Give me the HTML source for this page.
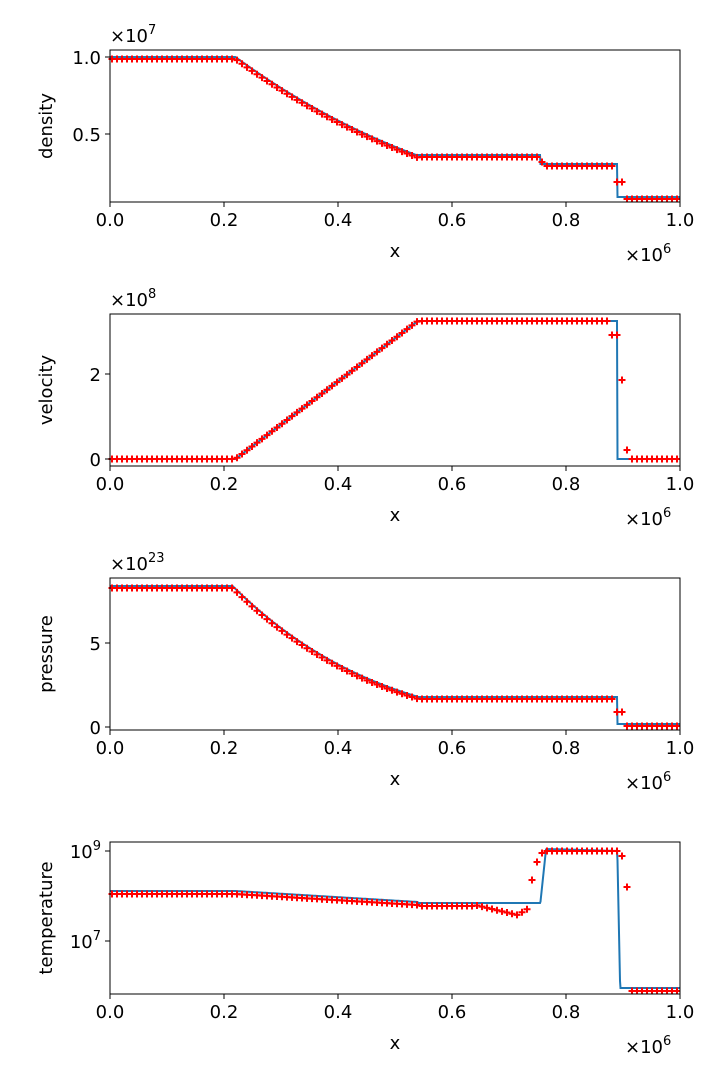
<!DOCTYPE html>
<html><head><meta charset="utf-8"><style>
body{margin:0;background:#fff}
svg{display:block;font-family:"DejaVu Sans","Liberation Sans",sans-serif}
</style></head><body>
<svg id="s" width="720" height="1080" xmlns="http://www.w3.org/2000/svg"></svg>
<script>
var S=document.getElementById('s'),h='';
var X0=110,X1=680,W=570;
function px(x){return X0+x*W;}
function lin(a,b,x0,x1,x){if(x<=x0)return a;if(x>=x1)return b;return a+(b-a)*(x-x0)/(x1-x0);}
function dens(x){ if(x<0.22)return 57; if(x<0.54){var t=(x-0.22)/0.32;var f=1-t*0.289;return 211-154*f*f*f;} if(x<0.755)return 155; if(x<0.89)return 164; return 197;}
function vel(x){ if(x<0.22)return 459; if(x<0.54)return lin(459,321,0.22,0.54,x); if(x<0.89)return 321; return 459;}
function pres(x){ if(x<0.215)return 586; if(x<0.54){var t=(x-0.215)/0.325;var f=1-t*0.289;return 727-141*Math.pow(f,4.52);} if(x<0.89)return 697; return 724;}
function temp(x){ if(x<0.22)return 891; if(x<0.54)return lin(891,902,0.22,0.54,x); if(x<0.755)return 903; if(x<0.765)return lin(903,849,0.755,0.765,x); if(x<0.89)return lin(849,851,0.765,0.89,x); if(x<0.895)return lin(851,988,0.89,0.895,x); return 988;}
var plots=[
 {top:50,f:dens,lab:'density',off:'7',ticks:[[134,'0.5'],[57,'1.0']],dy:2},
 {top:314,f:vel,lab:'velocity',off:'8',ticks:[[459,'0'],[374,'2']],dy:0},
 {top:578,f:pres,lab:'pressure',off:'23',ticks:[[727,'0'],[643,'5']],dy:2},
 {top:842,f:temp,lab:'temperature',off:null,ticks:[[941,'10<tspan dy="-8" font-size="13">7</tspan>'],[851,'10<tspan dy="-8" font-size="13">9</tspan>']],dy:3}
];
function plus(x,y){return '<path d="M'+(x-3.5)+' '+y+'h7M'+x+' '+(y-3.5)+'v7" stroke="#f00" stroke-width="2"/>';}
plots.forEach(function(p,k){
 var T=p.top,B=T+152;
 var d='';for(var i=0;i<=1140;i++){var x=i/1140;d+=(i?'L':'M')+px(x).toFixed(1)+' '+p.f(x).toFixed(1);}
 var pl='';
 for(var i=0;i<114;i++){var x=(i+0.4)/114,xp=px(x),y=p.f(x)+p.dy;
  if(k==0){ if(x>0.885&&x<0.9)y=182; else if(x>0.75&&x<0.765)y=162;}
  if(k==1){ if(x>0.88&&x<0.89)y=335; else if(x>0.89&&x<0.9)y=380; else if(x>0.9&&x<0.91)y=450;}
  if(k==2){ if(x>0.885&&x<0.9)y=712;}
  if(k==3){ if(x>0.64&&x<0.735){y=lin(905,915,0.64,0.715,x); if(x>0.715)y=lin(915,908,0.715,0.735,x);}
   if(x>=0.735&&x<0.742)y=880; else if(x>=0.742&&x<0.75)y=862; else if(x>=0.75&&x<0.76)y=853; else if(x>=0.76&&x<0.89)y=851;
   if(x>0.89&&x<0.9)y=856; else if(x>=0.9&&x<0.91)y=887; }
  pl+=plus(xp,y);}
 h+='<path d="'+d+'" fill="none" stroke="#1f77b4" stroke-width="2"/>'+pl;
 h+='<rect x="110" y="'+T+'" width="570" height="152" fill="none" stroke="#000" stroke-width="1"/>';
 for(var i=0;i<=5;i++){var x=X0+114*i;h+='<line x1="'+x+'" y1="'+B+'" x2="'+x+'" y2="'+(B+5)+'" stroke="#000"/>';
  h+='<text x="'+x+'" y="'+(B+24)+'" font-size="18" text-anchor="middle">'+(i/5).toFixed(1)+'</text>';}
 p.ticks.forEach(function(t){h+='<line x1="105" y1="'+t[0]+'" x2="110" y2="'+t[0]+'" stroke="#000"/>';
  h+='<text x="101" y="'+(t[0]+7)+'" font-size="18" text-anchor="end">'+t[1]+'</text>';});
 h+='<text x="395" y="'+(B+55)+'" font-size="18" text-anchor="middle">x</text>';
 h+='<text x="625" y="'+(B+59)+'" font-size="18">×10<tspan dy="-8" font-size="13">6</tspan></text>';
 if(p.off)h+='<text x="110" y="'+(T-8)+'" font-size="18">×10<tspan dy="-8" font-size="13">'+p.off+'</tspan></text>';
 var cy=T+76;h+='<text x="0" y="0" font-size="18" text-anchor="middle" transform="translate(52,'+cy+') rotate(-90)">'+p.lab+'</text>';
});
S.innerHTML=h;
</script>
</body></html>
